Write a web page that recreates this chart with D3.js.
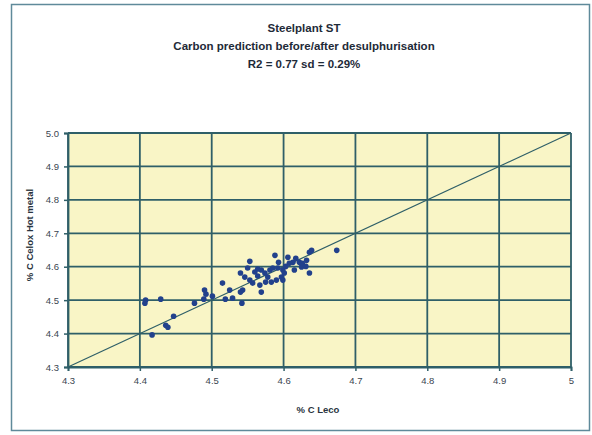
<!DOCTYPE html>
<html>
<head>
<meta charset="utf-8">
<script src="https://cdn.jsdelivr.net/npm/d3@7"></script>
<style>
  body { margin: 0; background: #fff; }
  text { font-family: Arial, "Liberation Sans", sans-serif; }
</style>
</head>
<body>
<div id="chart"></div>
<script>
// chart text
var titleLines = ["Steelplant ST", "Carbon prediction before/after desulphurisation", "R2 = 0.77 sd = 0.29%"];
var xLabel = "% C Leco";
var yLabel = "% C Celox Hot metal";
var xTicks = [4.3, 4.4, 4.5, 4.6, 4.7, 4.8, 4.9, 5];
var yTicks = [4.3, 4.4, 4.5, 4.6, 4.7, 4.8, 4.9, 5.0];

// measured points (% C Leco vs % C Celox)
var cLeco = [4.407, 4.408, 4.429, 4.476, 4.490, 4.492, 4.489, 4.447, 4.439, 4.436,
             4.417, 4.501, 4.515, 4.519, 4.529, 4.542, 4.543, 4.540, 4.540, 4.546,
             4.553, 4.557, 4.564, 4.569, 4.574, 4.578, 4.575, 4.569, 4.581, 4.585,
             4.588, 4.590, 4.583, 4.592, 4.597, 4.599, 4.599, 4.601, 4.606, 4.608,
             4.613, 4.615, 4.622, 4.625, 4.626, 4.632, 4.636, 4.639, 4.636, 4.674,
             4.617, 4.564, 4.550, 4.560, 4.603, 4.631, 4.567, 4.553, 4.593, 4.525];
var cCelox = [4.491, 4.500, 4.503, 4.491, 4.530, 4.518, 4.503, 4.452, 4.419, 4.425,
              4.396, 4.512, 4.551, 4.503, 4.506, 4.491, 4.530, 4.524, 4.581, 4.569,
              4.616, 4.551, 4.593, 4.590, 4.581, 4.569, 4.554, 4.524, 4.590, 4.596,
              4.634, 4.560, 4.554, 4.596, 4.569, 4.590, 4.560, 4.581, 4.628, 4.610,
              4.613, 4.590, 4.613, 4.599, 4.610, 4.619, 4.643, 4.649, 4.581, 4.649,
              4.625, 4.572, 4.596, 4.584, 4.601, 4.601, 4.545, 4.560, 4.613, 4.530];

var W = 592, H = 435;
var margin = { top: 133, right: 21, bottom: 68, left: 68 },
    width = W - margin.left - margin.right,
    height = H - margin.top - margin.bottom;

var svg = d3.select("#chart").append("svg")
    .attr("width", W)
    .attr("height", H);

// outer frame
svg.append("rect")
    .attr("x", 11.5).attr("y", 4.5)
    .attr("width", 578).attr("height", 426)
    .attr("fill", "#fff")
    .attr("stroke", "#5f8a9a")
    .attr("stroke-width", 1.5);

// titles
svg.selectAll(".title")
    .data(titleLines)
    .enter().append("text")
    .attr("class", "title")
    .attr("x", 304)
    .attr("y", function (d, i) { return 32 + i * 18; })
    .attr("text-anchor", "middle")
    .attr("font-size", "11.5px")
    .attr("font-weight", "bold")
    .attr("fill", "#1e2a38")
    .text(function (d) { return d; });

var g = svg.append("g")
    .attr("transform", "translate(" + margin.left + "," + margin.top + ")");

var x = d3.scaleLinear().domain([4.3, 5.0]).range([0, width]);
var y = d3.scaleLinear().domain([4.3, 5.0]).range([height, 0]);

// plot background
g.append("rect")
    .attr("width", width)
    .attr("height", height)
    .attr("fill", "#f9f5c6");

var gridColor = "#2f5f68";

// grid lines
g.selectAll(".hgrid")
    .data(yTicks)
    .enter().append("line")
    .attr("x1", 0).attr("x2", width)
    .attr("y1", function (d) { return y(d); })
    .attr("y2", function (d) { return y(d); })
    .attr("stroke", gridColor)
    .attr("stroke-width", 1.8);

g.selectAll(".vgrid")
    .data(xTicks)
    .enter().append("line")
    .attr("y1", 0).attr("y2", height)
    .attr("x1", function (d) { return x(d); })
    .attr("x2", function (d) { return x(d); })
    .attr("stroke", gridColor)
    .attr("stroke-width", 1.8);

// axes
var xAxis = g.append("g")
    .attr("transform", "translate(0," + height + ")")
    .call(d3.axisBottom(x).tickValues(xTicks).tickSize(4).tickPadding(6)
        .tickFormat(function (d) { return d === 5 ? "5" : d3.format(".1f")(d); }));
var yAxis = g.append("g")
    .call(d3.axisLeft(y).tickValues(yTicks).tickSize(4).tickPadding(5)
        .tickFormat(d3.format(".1f")));

[xAxis, yAxis].forEach(function (a) {
    a.select(".domain").attr("stroke", gridColor).attr("stroke-width", 1.8);
    a.selectAll(".tick line").attr("stroke", gridColor).attr("stroke-width", 1.5);
    a.selectAll(".tick text")
        .attr("font-size", "9.5px")
        .attr("fill", "#3a4550");
});

// y = x reference line
g.append("line")
    .attr("x1", x(4.3)).attr("y1", y(4.3))
    .attr("x2", x(5.0)).attr("y2", y(5.0))
    .attr("stroke", gridColor)
    .attr("stroke-width", 1.2);

// points
g.selectAll("circle")
    .data(cLeco)
    .enter().append("circle")
    .attr("cx", function (d) { return x(d); })
    .attr("cy", function (d, i) { return y(cCelox[i]); })
    .attr("r", 2.8)
    .attr("fill", "#22418c");

// axis labels
svg.append("text")
    .attr("x", 318)
    .attr("y", 413)
    .attr("text-anchor", "middle")
    .attr("font-size", "9.5px")
    .attr("font-weight", "bold")
    .attr("fill", "#2a3440")
    .text(xLabel);

svg.append("text")
    .attr("transform", "translate(33," + (margin.top + height / 2 - 15) + ") rotate(-90)")
    .attr("text-anchor", "middle")
    .attr("font-size", "9.5px")
    .attr("font-weight", "bold")
    .attr("fill", "#2a3440")
    .text(yLabel);
</script>
</body>
</html>
